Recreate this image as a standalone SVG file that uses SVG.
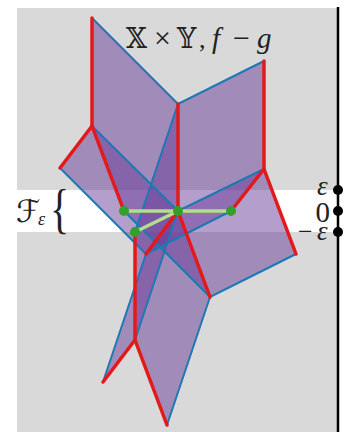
<svg xmlns="http://www.w3.org/2000/svg" width="348" height="432" viewBox="0 0 348 432">
<style>
.s{fill:#6a3d9a;fill-opacity:.5;stroke:none}
.b{stroke:#1f78b4;stroke-width:2;fill:none;stroke-linecap:round}
.r{stroke:#e31a1c;stroke-width:3.5;fill:none;stroke-linecap:round;stroke-linejoin:round}
.g{stroke:#b2df8a;stroke-width:3.5;fill:none}
.gd{fill:#33a02c}
.k{fill:#000}
.t{font-family:"DejaVu Serif","Liberation Serif",serif;fill:#222}
.m{font-family:"Liberation Serif",serif;font-style:italic;fill:#222}
.u{font-family:"Liberation Serif",serif;fill:#222}
</style>
<rect x="17" y="8" width="321" height="424" fill="#d9d9d9"/>
<rect x="17" y="190" width="321" height="42" fill="#fff"/>
<g id="sheets">
<polygon class="s" points="92,18 178,104 178,211 92,126"/>
<polygon class="s" points="178,104 264,61 264,169 178,211"/>
<polygon class="s" points="92,126 60,168 146,254 178,211"/>
<polygon class="s" points="92,126 124,211 210,297 178,211"/>
<polygon class="s" points="264,169 296,254 210,297 178,211"/>
<polygon class="s" points="264,169 231,211 146,254 178,211"/>
<polygon class="s" points="178,104 135,232 135,340 178,211"/>
<polygon class="s" points="178,211 210,297 167,425 135,340"/>
<polygon class="s" points="178,211 146,254 103,382 135,340"/>
</g>
<g id="connectors">
<g id="blue-edges">
<path class="b" d="M92,18L178,104L264,61"/>
<path class="b" d="M92,126L178,211"/>
<path class="b" d="M60,168L146,254"/>
<path class="b" d="M124,211L210,297L296,254"/>
<path class="b" d="M264,169L178,211"/>
<path class="b" d="M231,211L146,254"/>
<path class="b" d="M178,104L135,232"/>
<path class="b" d="M178,211L135,340"/>
<path class="b" d="M210,297L167,425"/>
<path class="b" d="M146,254L103,382"/>
</g>
<g id="red-edges">
<path class="r" d="M92,18V126L60,168"/>
<path class="r" d="M92,126L124,211"/>
<path class="r" d="M178,104V211L146,254"/>
<path class="r" d="M178,211L210,297"/>
<path class="r" d="M264,61V169L296,254"/>
<path class="r" d="M264,169L231,211"/>
<path class="r" d="M135,232V340L103,382"/>
<path class="r" d="M135,340L167,425"/>
</g>
<g id="green-edges">
<path class="g" d="M124,211H231"/>
<path class="g" d="M178,211L135,232"/>
</g>
</g>
<g id="critical-points">
<circle id="c1" class="gd" cx="124" cy="211" r="5"/>
<circle id="c2" class="gd" cx="178" cy="211" r="5"/>
<circle id="c3" class="gd" cx="231" cy="211" r="5"/>
<circle id="c4" class="gd" cx="135" cy="232" r="5"/>
</g>
<g id="axis">
<path d="M338,7V432" stroke="#000" stroke-width="2.5" fill="none"/>
<circle class="k" cx="338" cy="190" r="5"/>
<circle class="k" cx="338" cy="211" r="5"/>
<circle class="k" cx="338" cy="232" r="5"/>
</g>
<g id="labels">
<text class="t" x="126" y="48" font-size="27">𝕏</text>
<text class="u" x="154" y="48" font-size="30">×</text>
<text class="t" x="177" y="48" font-size="27">𝕐</text>
<text class="u" x="199" y="48" font-size="26">,</text>
<text class="m" x="212" y="48" font-size="29">f</text>
<text class="u" x="233" y="48" font-size="30">−</text>
<text class="m" x="257" y="48" font-size="29">g</text>
<text class="m" x="317" y="195" font-size="27">ε</text>
<text class="u" x="315.500" y="222" font-size="29">0</text>
<text class="u" x="298" y="240" font-size="26">−</text>
<text class="m" x="317" y="240" font-size="27">ε</text>
<text x="16" y="222" font-size="31" font-family="DejaVu Sans,serif" font-style="italic" fill="#222">ℱ</text>
<text class="m" x="38" y="225" font-size="18">ε</text>
<text class="u" x="50" y="222" font-size="40" transform="translate(0,-73) scale(1,1.35)" fill="#333">{</text>
</g>
</svg>
